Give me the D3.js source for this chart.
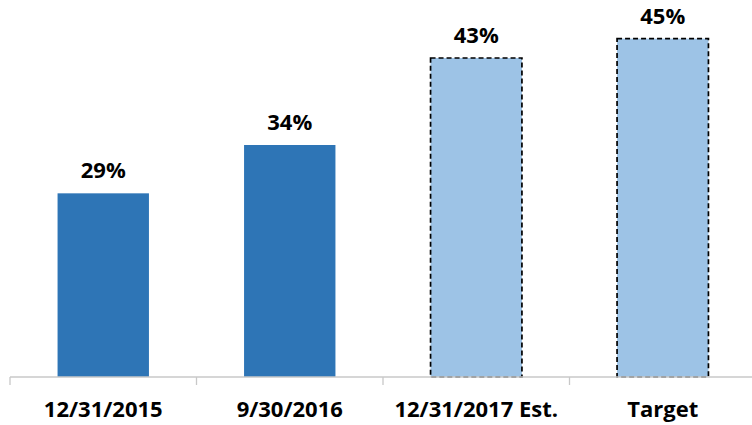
<!DOCTYPE html>
<html>
<head>
<meta charset="utf-8">
<script src="https://cdn.jsdelivr.net/npm/d3@7"></script>
<style>
  body { margin: 0; background: #fff; }
  text { font-family: "Open Sans", "Liberation Sans", sans-serif; font-weight: bold; fill: #000; }
</style>
</head>
<body>
<div id="chart"></div>
<script>
// Chart data
const categories = ['12/31/2015', '9/30/2016', '12/31/2017 Est.', 'Target'];
const values = [29, 34, 43, 45];
const projected = [false, false, true, true];

const width = 752, height = 425;
const baseY = 377;

const svg = d3.select('#chart')
    .append('svg')
    .attr('width', width)
    .attr('height', height);

const x = d3.scaleBand()
    .domain(categories)
    .range([10, 756])
    .paddingInner(0.51)
    .paddingOuter(0.255);

const y = d3.scaleLinear()
    .domain([10, 49])
    .range([baseY, 0]);

const data = categories.map((c, i) => ({ cat: c, value: values[i], est: projected[i] }));

// bars
svg.selectAll('rect.bar')
    .data(data)
    .join('rect')
    .attr('class', 'bar')
    .attr('x', d => x(d.cat))
    .attr('y', d => y(d.value))
    .attr('width', x.bandwidth())
    .attr('height', d => baseY - y(d.value))
    .attr('fill', d => d.est ? '#9DC3E6' : '#2E75B6')
    .attr('stroke', d => d.est ? '#000' : 'none')
    .attr('stroke-width', 1.7)
    .attr('stroke-dasharray', '5,3');

// x axis
const band = x.step();
const axis = svg.append('g');
axis.append('line')
    .attr('x1', 10).attr('x2', 752)
    .attr('y1', baseY).attr('y2', baseY)
    .attr('stroke', '#c8c8c8')
    .attr('stroke-width', 1.3);
const tickXs = d3.range(categories.length + 1).map(i => 10 + i * band);
axis.selectAll('line.tick')
    .data(tickXs)
    .join('line')
    .attr('class', 'tick')
    .attr('x1', d => d).attr('x2', d => d)
    .attr('y1', baseY).attr('y2', baseY + 8)
    .attr('stroke', '#c8c8c8')
    .attr('stroke-width', 1.3);

axis.selectAll('text')
    .data(categories)
    .join('text')
    .attr('x', d => x(d) + x.bandwidth() / 2)
    .attr('y', 417)
    .attr('text-anchor', 'middle')
    .style('font-size', '22px')
    .text(d => d);

// value labels
svg.selectAll('text.val')
    .data(data)
    .join('text')
    .attr('class', 'val')
    .attr('x', d => x(d.cat) + x.bandwidth() / 2)
    .attr('y', d => y(d.value) - 15)
    .attr('text-anchor', 'middle')
    .style('font-size', '22px')
    .text(d => d.value + '%');
</script>
</body>
</html>
